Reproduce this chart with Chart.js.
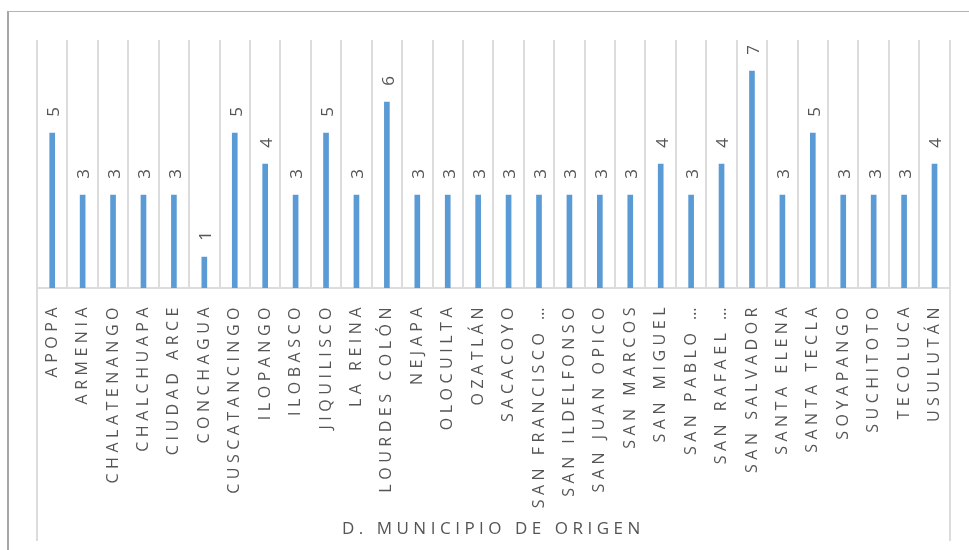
<!DOCTYPE html>
<html>
<head>
<meta charset="utf-8">
<script src="https://cdn.jsdelivr.net/npm/chart.js@4.4.1/dist/chart.umd.min.js"></script>
<style>
  html, body { margin: 0; padding: 0; background: #fff; }
  #wrap { position: relative; width: 969px; height: 550px; overflow: hidden; }
  #frame { position: absolute; left: 7px; top: 11px; width: 2000px; height: 2000px;
           border-left: 2px solid #a6a6a6; border-top: 1px solid #b4b4b4; }
  canvas { position: absolute; left: 0; top: 0; }
</style>
</head>
<body>
<div id="wrap">
  <div id="frame"></div>
  <canvas id="myChart" width="969" height="550"></canvas>
</div>
<script>
'use strict';

const municipios = [
  'APOPA', 'ARMENIA', 'CHALATENANGO', 'CHALCHUAPA', 'CIUDAD ARCE', 'CONCHAGUA',
  'CUSCATANCINGO', 'ILOPANGO', 'ILOBASCO', 'JIQUILISCO', 'LA REINA', 'LOURDES COLÓN',
  'NEJAPA', 'OLOCUILTA', 'OZATLÁN', 'SACACOYO', 'SAN FRANCISCO …', 'SAN ILDELFONSO',
  'SAN JUAN OPICO', 'SAN MARCOS', 'SAN MIGUEL', 'SAN PABLO …', 'SAN RAFAEL …',
  'SAN SALVADOR', 'SANTA ELENA', 'SANTA TECLA', 'SOYAPANGO', 'SUCHITOTO', 'TECOLUCA',
  'USULUTÁN'
];
const conteo = [5, 3, 3, 3, 3, 1, 5, 4, 3, 5, 3, 6, 3, 3, 3, 3, 3, 3, 3, 3, 4, 3, 4, 7, 3, 5, 3, 3, 3, 4];
const tituloEje = 'D. MUNICIPIO DE ORIGEN';
const yMin = 0;
const yMax = 8;

const textColor = '#555555';
const gridColor = '#dcdcdc';
const barColor = '#5b9bd5';
const fontFamily = '\'Open Sans\', sans-serif';
const spacing = '4.5px';

// Excel spaces the letters out, canvas can do the same
const letterSpacing = {
  id: 'letterSpacing',
  beforeUpdate(chart) {
    chart.ctx.letterSpacing = spacing;
  },
  beforeDraw(chart) {
    chart.ctx.letterSpacing = spacing;
  }
};

// left and right gridlines run down through the label area
const edgeLines = {
  id: 'edgeLines',
  beforeDatasetsDraw(chart) {
    const ctx = chart.ctx;
    const xScale = chart.scales.x;
    ctx.save();
    ctx.strokeStyle = gridColor;
    ctx.lineWidth = 2;
    ctx.beginPath();
    for (let px of [xScale.left, xScale.right]) {
      ctx.moveTo(Math.round(px), chart.chartArea.bottom);
      ctx.lineTo(Math.round(px), 541);
    }
    ctx.stroke();
    ctx.restore();
  }
};

// rotated value above every bar
const valueLabels = {
  id: 'valueLabels',
  afterDatasetsDraw(chart) {
    const ctx = chart.ctx;
    const meta = chart.getDatasetMeta(0);
    ctx.save();
    ctx.letterSpacing = '0px';
    ctx.font = '17px ' + fontFamily;
    ctx.fillStyle = textColor;
    ctx.textAlign = 'center';
    ctx.textBaseline = 'middle';
    meta.data.forEach(function(bar, i) {
      ctx.save();
      ctx.translate(bar.x + 2, bar.y - 21);
      ctx.rotate(-Math.PI / 2);
      ctx.fillText(String(conteo[i]), 0, 0);
      ctx.restore();
    });
    ctx.restore();
  }
};

function generateChart() {
  const ctx = document.getElementById('myChart').getContext('2d');
  new Chart(ctx, {
    type: 'bar',
    data: {
      labels: municipios,
      datasets: [{
        data: conteo,
        backgroundColor: barColor,
        borderWidth: 0,
        barThickness: 5
      }]
    },
    options: {
      responsive: false,
      animation: false,
      layout: {
        padding: {left: 37, right: 17, top: 40, bottom: 0}
      },
      plugins: {
        legend: {display: false},
        tooltip: {enabled: false}
      },
      scales: {
        x: {
          afterFit: function(scale) {
            scale.height = 262;
          },
          grid: {
            color: gridColor,
            lineWidth: 2,
            drawTicks: false,
            offset: true
          },
          border: {color: gridColor, width: 2},
          ticks: {
            autoSkip: false,
            minRotation: 90,
            maxRotation: 90,
            padding: 15,
            color: textColor,
            font: {family: fontFamily, size: 16}
          },
          title: {
            display: true,
            text: tituloEje,
            color: textColor,
            font: {family: fontFamily, size: 17},
            padding: {top: 0, bottom: 11}
          }
        },
        y: {
          display: false,
          min: yMin,
          max: yMax
        }
      }
    },
    plugins: [letterSpacing, edgeLines, valueLabels]
  });
}

generateChart();
</script>
</body>
</html>
